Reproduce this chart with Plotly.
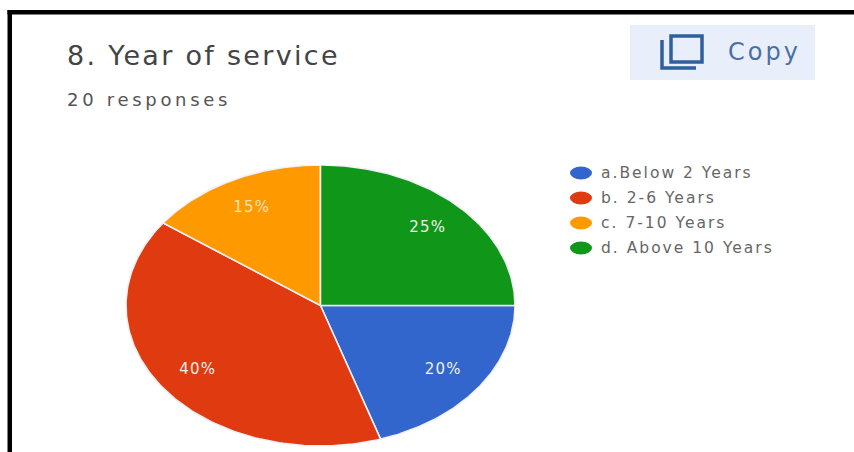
import numpy as np
import plotly.graph_objects as go

W, H = 854, 452

categories = ["a.Below 2 Years", "b. 2-6 Years", "c. 7-10 Years", "d. Above 10 Years"]
shares = [20, 40, 15, 25]
colors = ["#3366cc", "#e03a10", "#ff9900", "#109618"]
title_text = "8. Year of service"
subtitle_text = "20 responses"
button_text = "Copy"


def px_x(x):
    return x / W


def px_y(y):
    return 1 - y / H


fig = go.Figure()

# Slices run clockwise from the point where the first category begins,
# so that the last category ends at twelve o'clock.
start = shares[-1] / sum(shares)
cum = start
for name, share, color in zip(categories, shares, colors):
    a0, a1 = cum, cum + share / sum(shares)
    t = 2 * np.pi * np.linspace(a0, a1, 120)
    xs = np.concatenate([[0], np.sin(t), [0]])
    ys = np.concatenate([[0], np.cos(t), [0]])
    fig.add_trace(go.Scatter(
        x=xs, y=ys, mode="lines", fill="toself", fillcolor=color,
        line=dict(color="#f0f0f6", width=1.6), name=name, showlegend=False,
        hoverinfo="name",
    ))
    mid = 2 * np.pi * (a0 + a1) / 2
    fig.add_trace(go.Scatter(
        x=[0.78 * np.sin(mid)], y=[0.78 * np.cos(mid)], mode="text",
        text=[f"{share}%"], textposition="middle center",
        textfont=dict(family="DejaVu Sans", size=15,
                      color="#ffe2b4" if color == "#ff9900" else "#eef2ee"),
        showlegend=False, hoverinfo="skip",
    ))
    cum = a1

shapes = [
    # Outer frame, open on the right
    dict(type="rect", xref="paper", yref="paper", x0=px_x(7.5), x1=px_x(12),
         y0=0, y1=px_y(10), fillcolor="#000", line_width=0),
    dict(type="rect", xref="paper", yref="paper", x0=px_x(7.5), x1=1,
         y0=px_y(14.5), y1=px_y(10), fillcolor="#000", line_width=0),
    # Copy button background and icon
    dict(type="rect", xref="paper", yref="paper", x0=px_x(630), x1=px_x(815),
         y0=px_y(80), y1=px_y(25), fillcolor="#e8effb", line_width=0),
    dict(type="rect", xref="paper", yref="paper", x0=px_x(671), x1=px_x(702),
         y0=px_y(62), y1=px_y(36), fillcolor="rgba(0,0,0,0)",
         line=dict(color="#2f5f9e", width=3.5)),
    dict(type="path", xref="paper", yref="paper",
         path=f"M {px_x(662)} {px_y(40)} L {px_x(662)} {px_y(68)} L {px_x(696)} {px_y(68)}",
         line=dict(color="#2f5f9e", width=3.5)),
]

annotations = [
    dict(text=title_text, x=px_x(66), y=px_y(55), xanchor="left", yanchor="middle",
         font=dict(family="DejaVu Sans", size=27, color="#444")),
    dict(text=subtitle_text, x=px_x(66), y=px_y(99), xanchor="left", yanchor="middle",
         font=dict(family="DejaVu Sans", size=18, color="#555")),
    dict(text=button_text, x=px_x(727), y=px_y(52), xanchor="left", yanchor="middle",
         font=dict(family="DejaVu Sans", size=24, color="#4a6fa5")),
]

legend_rows = [173, 198, 223, 248]
for name, color, row in zip(categories, colors, legend_rows):
    shapes.append(dict(type="circle", xref="paper", yref="paper",
                       x0=px_x(570), x1=px_x(592), y0=px_y(row + 6.5), y1=px_y(row - 6.5),
                       fillcolor=color, line_width=0))
    annotations.append(dict(text=name, x=px_x(600), y=px_y(row), xanchor="left",
                            yanchor="middle",
                            font=dict(family="DejaVu Sans", size=15.5, color="#666")))

fig.update_layout(
    width=W, height=H, margin=dict(l=0, r=0, t=0, b=0),
    paper_bgcolor="white", plot_bgcolor="white", showlegend=False,
    xaxis=dict(range=[-1, 1], domain=[px_x(126), px_x(515)], visible=False, fixedrange=True),
    yaxis=dict(range=[-1, 1], domain=[px_y(446), px_y(165)], visible=False, fixedrange=True),
    shapes=shapes, annotations=[dict(a, xref="paper", yref="paper", showarrow=False,
                                     xshift=0, borderpad=0, align="left") for a in annotations],
)

# The wide tracking of the text has to be set on the rendered SVG elements.
tracking = """
document.querySelectorAll('.annotation-text').forEach(function (el) {
  var t = el.textContent;
  var s = '2.0px';
  if (t.indexOf('8.') === 0) s = '2.3px';
  else if (t.indexOf('responses') > 0) s = '3.7px';
  else if (t === 'Copy') s = '3px';
  el.style.letterSpacing = s;
});
document.querySelectorAll('.textpoint text').forEach(function (el) {
  el.style.letterSpacing = '1.2px';
});
"""

fig.write_html("out.html", config=dict(displayModeBar=False), post_script=tracking)
